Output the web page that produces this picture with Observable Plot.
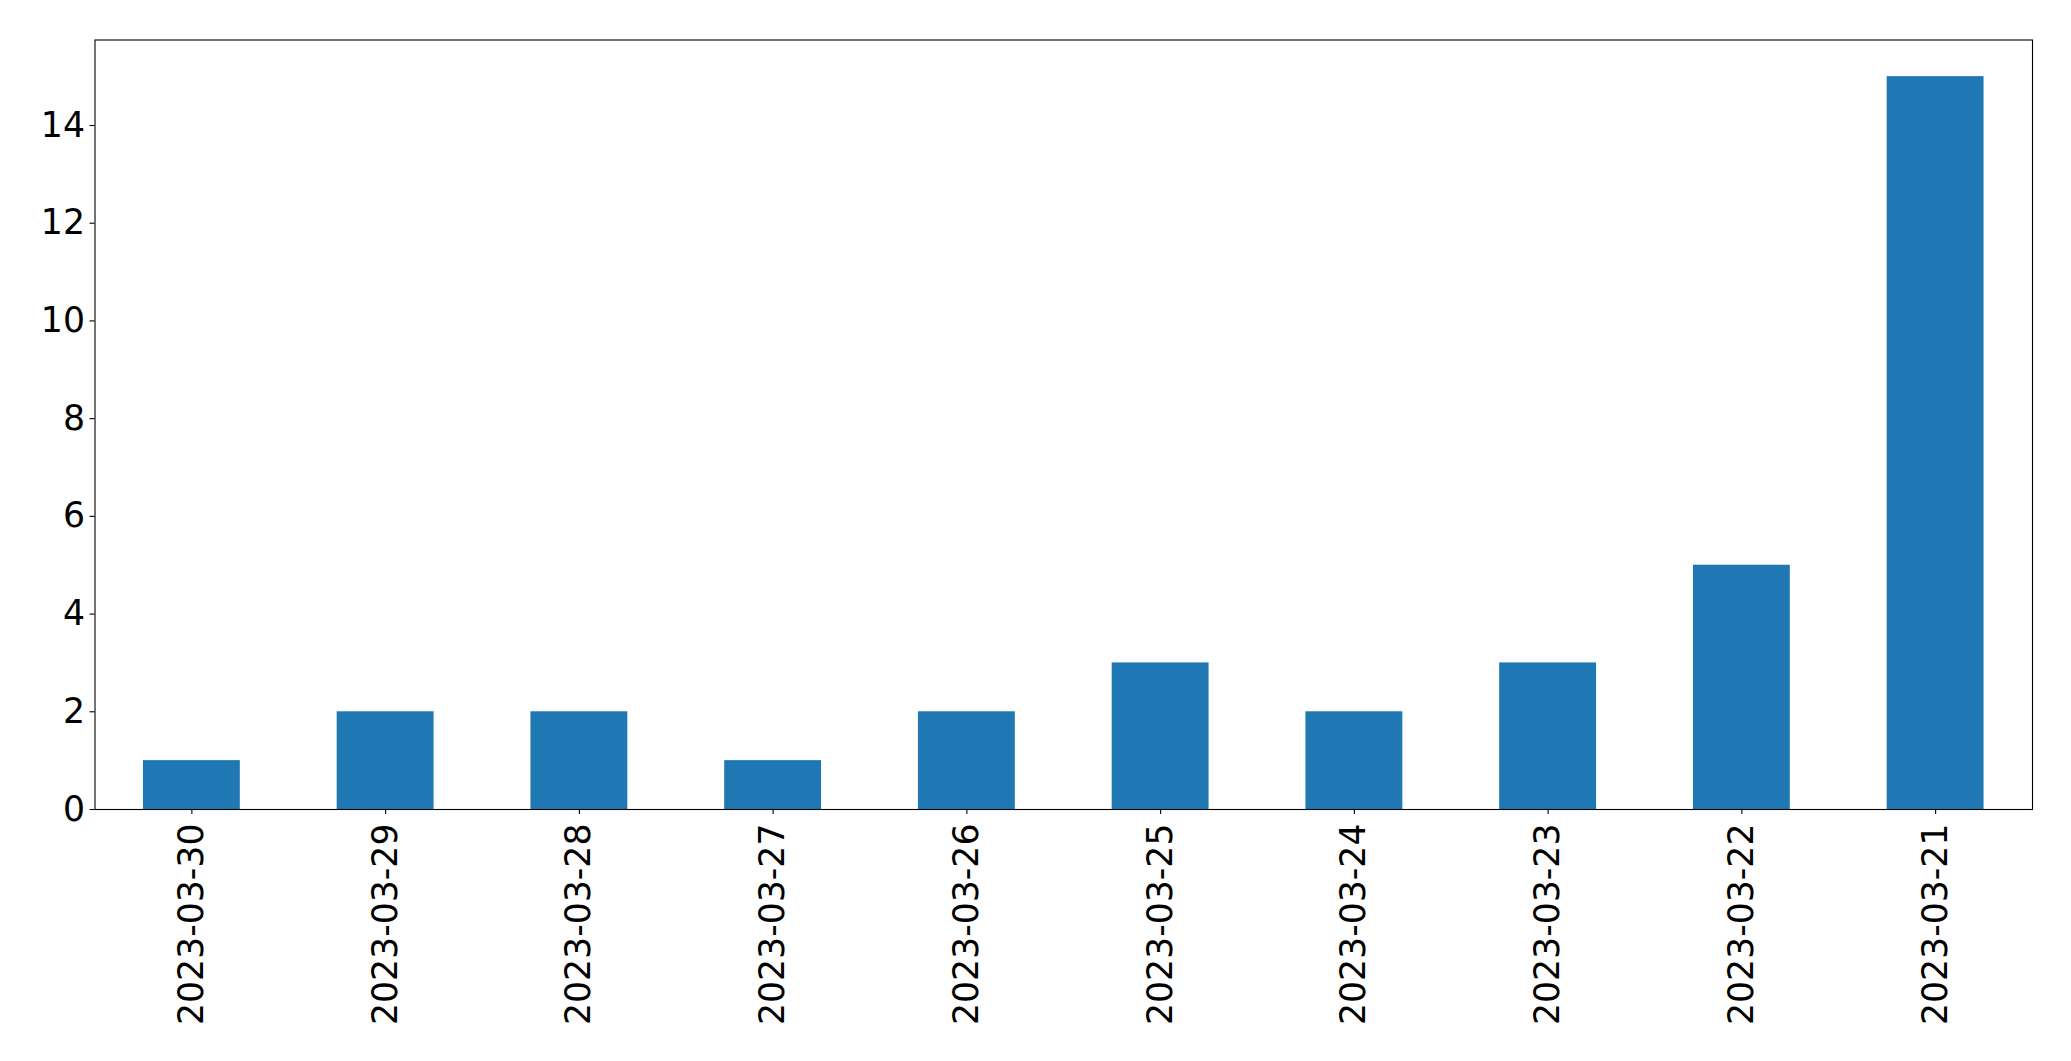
<!DOCTYPE html>
<html><head><meta charset="utf-8">
<script src="https://cdn.jsdelivr.net/npm/d3@7"></script>
<script src="https://cdn.jsdelivr.net/npm/@observablehq/plot@0.6"></script>
<style>body{margin:0;background:#fff}</style>
</head><body><div id="chart"></div>
<script>
const dates = ["2023-03-30","2023-03-29","2023-03-28","2023-03-27","2023-03-26","2023-03-25","2023-03-24","2023-03-23","2023-03-22","2023-03-21"];
const counts = [1, 2, 2, 1, 2, 3, 2, 3, 5, 15];
const yTicks = [0, 2, 4, 6, 8, 10, 12, 14];
const data = dates.map((d, i) => ({date: d, count: counts[i]}));
const chart = Plot.plot({
  width: 2071, height: 1061,
  marginLeft: 94.5, marginRight: 39, marginTop: 39.5, marginBottom: 252,
  style: {fontFamily: "DejaVu Sans", fontSize: "34.7px", background: "white", color: "black", overflow: "visible"},
  x: {type: "band", domain: dates, paddingInner: 0.5, paddingOuter: 0.25, round: false, label: null},
  y: {domain: [0, 15.75], label: null},
  marks: [
    Plot.barY(data, {x: "date", y: "count", fill: "#1f77b4"}),
    Plot.axisY({ticks: yTicks, tickSize: 5, tickPadding: 5, label: null, fontSize: 34.7, strokeWidth: 1.1}),
    Plot.axisX({tickSize: 5, tickRotate: -90, tickPadding: 9, label: null, fontSize: 34.7, strokeWidth: 1.1}),
    Plot.frame({stroke: "black", strokeWidth: 1.1})
  ]
});
document.getElementById("chart").appendChild(chart);
</script>
</body></html>
